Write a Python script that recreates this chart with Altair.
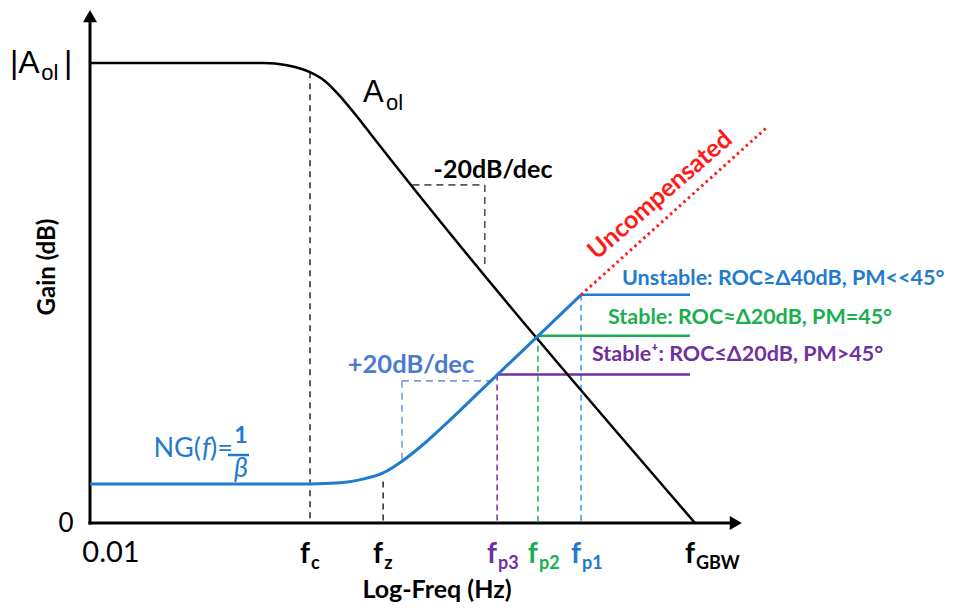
import altair as alt
import pandas as pd

# ---------------- data (x: log10 frequency in decades, y: gain in dB) ----------------
F_AXIS = -1.857          # left end of the frequency axis
FC, FZ, FP3, FP2, FP1, FGBW = 1.0, 1.95, 3.43, 3.96, 4.52, 6.0
NG_LOW = 8.5             # 1/beta at low frequency
LVL_P1, LVL_P2, LVL_P3 = 49.6, 40.7, 32.3
NG_END = 5.935           # end of the flat NG segments

aol_x = [F_AXIS, 0.4, 0.7, 1.0, 1.2, 1.4, 1.6, 1.8, FGBW]
aol_y = [100, 100, 99.5, 98.0, 96.0, 92.6, 88.6, 84.3, 0]

ng_x = [F_AXIS, 1.0, 1.4, 1.7, 1.95, 2.2, 2.5, 2.8, 3.2, FP1]
ng_y = [NG_LOW, NG_LOW, 8.75, 9.6, 10.9, 13.5, 17.5, 22.1, 28.5, LVL_P1]

uncomp_x = [FP1, 6.94]
uncomp_y = [LVL_P1, 86.1]

tick_names = ["c", "z", "p3", "p2", "p1", "GBW"]
tick_pos = [FC, FZ, FP3, FP2, FP1, FGBW]

BLUE = "#1f7bd0"
GREEN = "#1aae50"
PURPLE = "#7030a0"
RED = "#ff1a1a"
LBLUE = "#4a7bd0"
LBLUE_DASH = "#7b9ee0"
tick_colors = ["black", "black", PURPLE, GREEN, BLUE, "black"]

# ---------------- scales ----------------
XS = alt.Scale(domain=[-2.922, 9.2727], nice=False, zero=False)
YS = alt.Scale(domain=[-17.391, 111.957], nice=False, zero=False)
X = alt.X("x:Q", scale=XS, axis=None)
Y = alt.Y("y:Q", scale=YS, axis=None)
X2 = alt.X2("x2:Q")
Y2 = alt.Y2("y2:Q")
FONT = "Lato"


def seg(rows):
    return pd.DataFrame(rows, columns=["x", "y", "x2", "y2"])


def rule(rows, **kw):
    return alt.Chart(seg(rows)).mark_rule(**kw).encode(x=X, y=Y, x2=X2, y2=Y2)


def text(rows, **kw):
    df = pd.DataFrame(rows, columns=["x", "y", "t"])
    return alt.Chart(df).mark_text(**kw).encode(x=X, y=Y, text="t:N")


layers = []

# axes
layers.append(rule([[F_AXIS, 0, F_AXIS, 109.0], [F_AXIS, 0, 6.5, 0]],
                   color="black", strokeWidth=3, strokeCap="square"))
layers.append(alt.Chart(pd.DataFrame({"x": [F_AXIS], "y": [110.2]}))
              .mark_point(shape="triangle-up", filled=True, size=196, color="black", opacity=1)
              .encode(x=X, y=Y))
layers.append(alt.Chart(pd.DataFrame({"x": [6.53], "y": [0]}))
              .mark_point(shape="triangle-right", filled=True, size=196, color="black", opacity=1)
              .encode(x=X, y=Y))

# vertical dashed markers
layers.append(rule([[FC, 98.0, FC, 0], [FZ, 9.0, FZ, 0]],
                   color="#333333", strokeWidth=1.6, strokeDash=[6, 5]))
layers.append(rule([[FP3, LVL_P3, FP3, 0]], color=PURPLE, strokeWidth=1.5, strokeDash=[6, 4]))
layers.append(rule([[FP2, LVL_P2, FP2, 0]], color=GREEN, strokeWidth=1.5, strokeDash=[6, 4]))
layers.append(rule([[FP1, LVL_P1, FP1, 0]], color="#3a96e0", strokeWidth=1.5, strokeDash=[6, 4]))

# slope triangles
layers.append(rule([[2.33, 73.5, 3.27, 73.5], [3.27, 73.5, 3.27, 56.0]],
                   color="#555555", strokeWidth=1.6, strokeDash=[7, 5]))
layers.append(rule([[2.195, 30.9, 3.35, 30.9], [2.195, 30.9, 2.195, 13.6]],
                   color=LBLUE_DASH, strokeWidth=1.6, strokeDash=[7, 5]))

# flat NG segments
layers.append(rule([[FP3, LVL_P3, NG_END, LVL_P3]], color=PURPLE, strokeWidth=2.5))
layers.append(rule([[FP2, LVL_P2, NG_END, LVL_P2]], color=GREEN, strokeWidth=2.5))
layers.append(rule([[FP1, LVL_P1, NG_END, LVL_P1]], color=BLUE, strokeWidth=2.5))

# uncompensated dotted
layers.append(alt.Chart(pd.DataFrame({"x": uncomp_x, "y": uncomp_y}))
              .mark_line(color=RED, strokeWidth=3, strokeDash=[2.5, 3.5])
              .encode(x=X, y=Y))

# curves
layers.append(alt.Chart(pd.DataFrame({"x": aol_x, "y": aol_y}))
              .mark_line(color="black", strokeWidth=2.5, interpolate="monotone")
              .encode(x=X, y=Y))
layers.append(alt.Chart(pd.DataFrame({"x": ng_x, "y": ng_y}))
              .mark_line(color=BLUE, strokeWidth=3, interpolate="monotone")
              .encode(x=X, y=Y))

# fraction bar of 1/beta
layers.append(rule([[-0.065, 14.78, 0.208, 14.78]], color=BLUE, strokeWidth=2.5))

# ---------------- texts ----------------
SANS = "Liberation Sans"
layers.append(text([[-2.896, 97.83, "|A"], [-2.195, 97.83, "|"]],
                   align="left", baseline="alphabetic", font=SANS, fontSize=32, color="black"))
layers.append(text([[-2.49, 96.3, "ol"]],
                   align="left", baseline="alphabetic", font=SANS, fontSize=22, color="black"))
layers.append(text([[1.688, 91.52, "A"]],
                   align="left", baseline="alphabetic", font=SANS, fontSize=31, color="black"))
layers.append(text([[1.987, 89.78, "ol"]],
                   align="left", baseline="alphabetic", font=SANS, fontSize=22, color="black"))

layers.append(text([[3.377, 76.74, "-20dB/dec"]], align="center", baseline="middle",
                   font=FONT, fontSize=25, fontWeight="bold", color="black"))
layers.append(text([[2.312, 34.35, "+20dB/dec"]], align="center", baseline="middle",
                   font=FONT, fontSize=25.5, fontWeight="bold", color=LBLUE))
layers.append(text([[5.545, 71.3, "Uncompensated"]], align="center", baseline="middle",
                   font=FONT, fontSize=25, fontWeight="bold", color=RED, angle=319))
layers.append(text([[5.052, 53.04, "Unstable: ROC≥Δ40dB, PM<<45°"]], align="left", baseline="middle",
                   font=FONT, fontSize=21.5, fontWeight="bold", color=BLUE))
layers.append(text([[4.870, 44.57, "Stable: ROC≈Δ20dB, PM=45°"]], align="left", baseline="middle",
                   font=FONT, fontSize=21.5, fontWeight="bold", color=GREEN))
layers.append(text([[4.662, 36.52, "Stable⁺: ROC≤Δ20dB, PM>45°"]], align="left", baseline="middle",
                   font=FONT, fontSize=21.5, fontWeight="bold", color=PURPLE))

# NG(f) = 1/beta
layers.append(text([[-0.4156, 14.35, "NG("]], align="right", baseline="alphabetic",
                   font=FONT, fontSize=27, color=BLUE))
layers.append(text([[-0.4156, 14.35, "f"]], align="left", baseline="alphabetic", dx=1,
                   font=FONT, fontSize=27, fontStyle="italic", color=BLUE))
layers.append(text([[-0.2987, 14.35, ")="]], align="left", baseline="alphabetic",
                   font=FONT, fontSize=27, color=BLUE))
layers.append(text([[0.104, 17.39, "1"]], align="center", baseline="alphabetic",
                   font=FONT, fontSize=23, fontWeight="bold", color=BLUE))
layers.append(text([[0.104, 10.0, "β"]], align="center", baseline="alphabetic",
                   font=FONT, fontSize=27, fontStyle="italic", color=BLUE))

# axis titles
layers.append(text([[-2.403, 55.65, "Gain (dB)"]], align="center", baseline="middle",
                   font=FONT, fontSize=24, fontWeight="bold", color="black", angle=270))
layers.append(text([[2.649, -16.3, "Log-Freq (Hz)"]], align="center", baseline="alphabetic",
                   font=FONT, fontSize=25, fontWeight="bold", color="black"))

# tick labels
layers.append(text([[-2.169, -0.2, "0"]], align="center", baseline="middle",
                   font=FONT, fontSize=26, color="black"))
layers.append(text([[-1.584, -6.52, "0.01"]], align="center", baseline="middle",
                   font=FONT, fontSize=29, color="black"))
for name, pos, col in zip(tick_names, tick_pos, tick_colors):
    layers.append(text([[pos, -8.696, "f"]], align="right", baseline="alphabetic",
                       font=FONT, fontSize=28, fontWeight="bold", color=col))
    layers.append(text([[pos, -10.0, name]], align="left", baseline="alphabetic", dx=1,
                       font=FONT, fontSize=18, fontWeight="bold", color=col))

chart = (alt.layer(*layers)
         .properties(width=939, height=595, padding=0, autosize="none")
         .configure_view(stroke=None))

chart.save("out.html", embed_options={"renderer": "svg", "actions": False})
